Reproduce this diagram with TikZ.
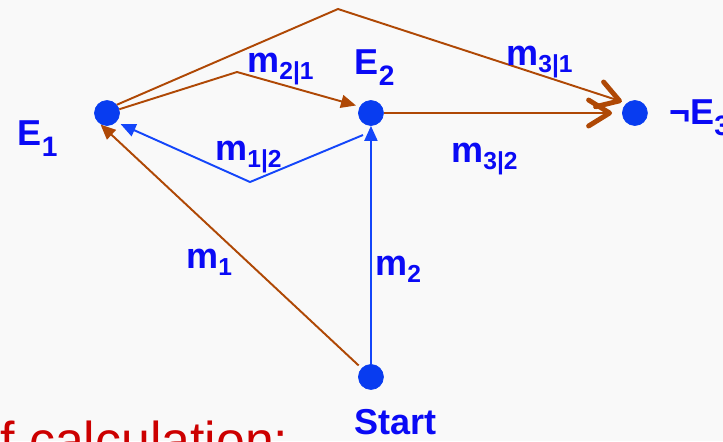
\documentclass[tikz,border=0pt]{standalone}
\usepackage{fontspec}
\setmainfont{Liberation Sans}
\usetikzlibrary{arrows.meta}

\definecolor{bgpaper}{RGB}{249,249,249}
\definecolor{dotblue}{RGB}{8,60,240}
\definecolor{lblblue}{RGB}{10,10,245}
\definecolor{arcblue}{RGB}{20,70,250}
\definecolor{arcbrown}{RGB}{175,72,5}
\definecolor{calcred}{RGB}{204,0,0}

\newcommand{\esub}[1]{\raisebox{-6.5pt}{\fontsize{16}{16}\selectfont #1}}
\newcommand{\msub}[1]{\raisebox{-4.5pt}{\fontsize{14}{14}\selectfont #1}}

\begin{document}
\begin{tikzpicture}[
    x=0.02cm, y=-0.02cm,
    node distance=5.28cm,
    state/.style={circle, fill=dotblue, draw=dotblue, minimum size=0.5cm, inner sep=0pt},
    lbl/.style={text=lblblue, font=\fontsize{20.5}{24}\selectfont\bfseries, inner sep=0pt, anchor=base west},
    brn/.style={draw=arcbrown, line width=1.1pt},
    blu/.style={draw=arcblue, line width=1.1pt},
    tri/.style={-{Triangle[length=0.3cm, width=0.26cm]}},
    barb/.style={-{Straight Barb[length=0.42cm, width=0.52cm, line width=2.8pt, round]}}
  ]
    \useasboundingbox (0,0) rectangle (723,441);
    \clip (0,0) rectangle (723,441);
    \fill[bgpaper] (0,0) rectangle (723,441);

    % the four states
    \node[state] (E1) at (107,113) {};
    \node[state, right of=E1] (E2) {};
    \node[state, right of=E2] (E3) {};
    \node[state, below of=E2] (start) {};

    \node[lbl] (lE1) at (17.5,145) {E\esub{1}};
    \node[lbl] (lE2) at (354.5,74) {E\esub{2}};
    \node[lbl] (lE3) at (669,124) {¬E\esub{3}};
    \node[lbl] (lstart) at (354,434) {Start};

    % corners of the bent arcs
    \coordinate (k21) at (237,72);
    \coordinate (k31) at (338,9);
    \coordinate (k12) at (250,182);
    \coordinate (a12) at (363,135);

    \draw[brn, tri, shorten <=0.08cm, shorten >=0.05cm] (start) -- (E1.230);
    \draw[blu, tri] (start) -- (E2);
    \draw[blu, tri, shorten >=0.1cm] (a12) -- (k12) -- (E1.-45);
    \draw[brn, tri, shorten >=0.08cm] (E1.17) -- (k21) -- (E2.150);
    \draw[brn, barb, shorten >=0.1cm] (E1.40) -- (k31) -- (E3.130);
    \draw[brn, barb, shorten >=0.2cm] (E2) -- (E3);

    \node[lbl] (m1) at (186,268) {m\msub{1}};
    \node[lbl] (m2) at (375,275) {m\msub{2}};
    \node[lbl] (m21) at (247,72) {m\msub{2|1}};
    \node[lbl] (m12) at (215,160) {m\msub{1|2}};
    \node[lbl] (m31) at (506,65) {m\msub{3|1}};
    \node[lbl] (m32) at (451,162) {m\msub{3|2}};

    \node[text=calcred, font=\fontsize{29.5}{34}\selectfont, inner sep=0pt, anchor=base west] (calc) at (0,458) {f calculation:};
  \end{tikzpicture}
\end{document}
